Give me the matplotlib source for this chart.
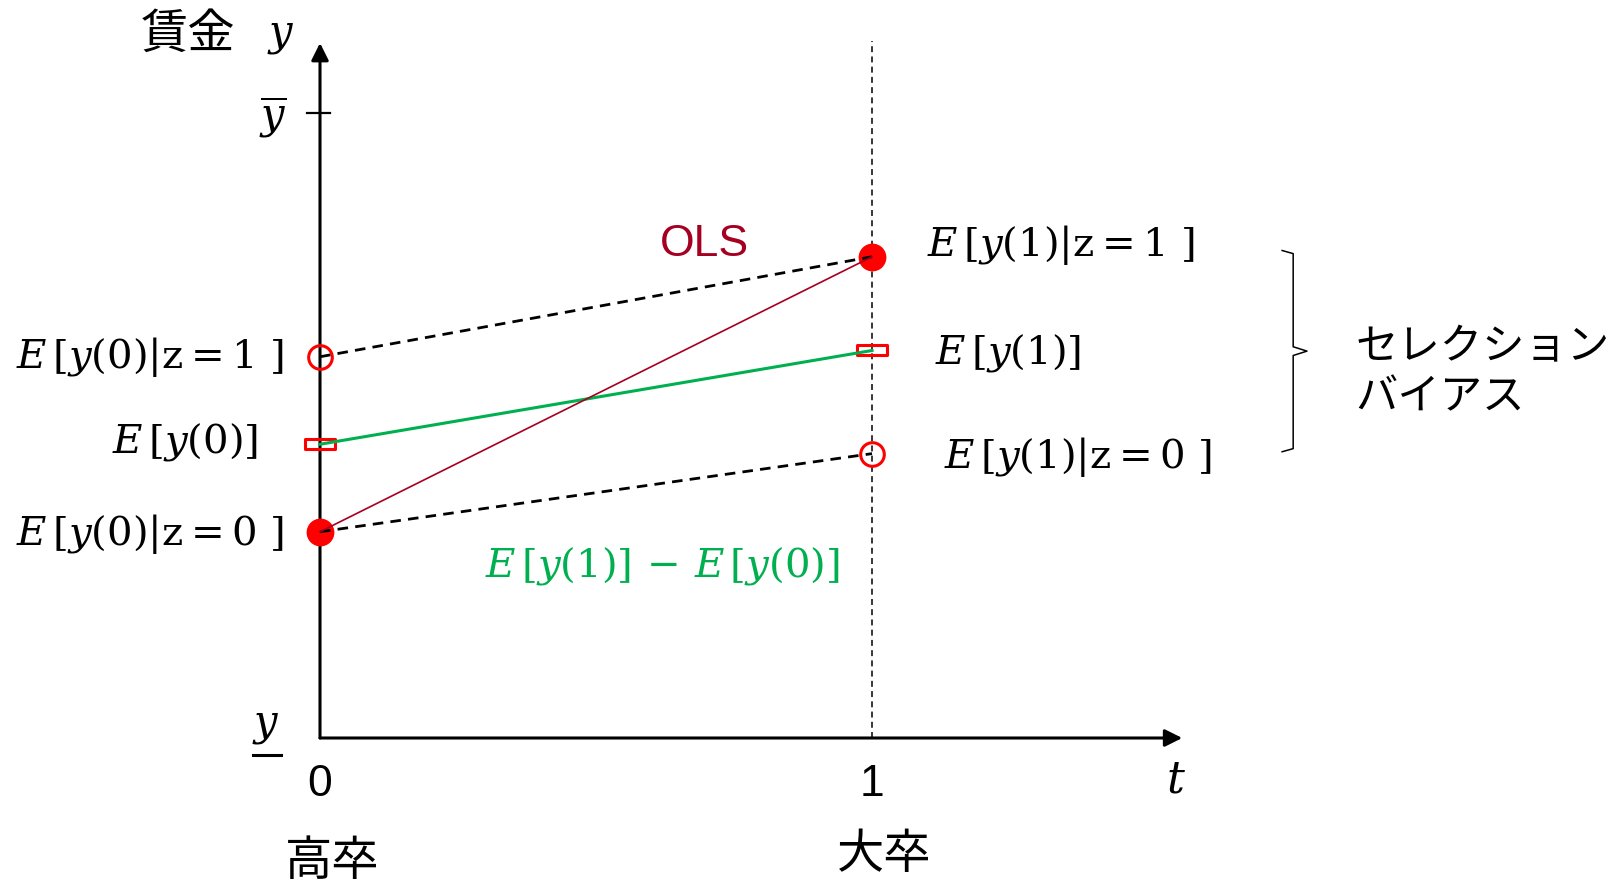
import matplotlib
matplotlib.use("Agg")
import matplotlib.pyplot as plt
from matplotlib.path import Path

plt.rcParams['mathtext.fontset'] = 'dejavuserif'
plt.rcParams['font.family'] = ['Liberation Sans', 'Noto Sans CJK JP', 'DejaVu Sans']

# wage levels (y_ = 0, y-bar = 10) for high school (t=0) and college (t=1)
t = [0, 1]
cond_z1 = [6.1, 7.7]      # E[y(t)|z=1]
cond_z0 = [3.3, 4.55]     # E[y(t)|z=0]
potential = [4.7, 6.2]    # E[y(t)]
ols = [cond_z0[0], cond_z1[1]]
y_low, y_high = 0, 10
tick_labels = ['0', '1']
school_labels = ['高卒', '大卒']
left_labels = [r'$E\,[y(0)|\mathrm{z}{=}1\ ]$', r'$E\,[y(0)]$', r'$E\,[y(0)|\mathrm{z}{=}0\ ]$']
right_labels = [r'$E\,[y(1)|\mathrm{z}{=}1\ ]$', r'$E\,[y(1)]$', r'$E\,[y(1)|\mathrm{z}{=}0\ ]$']

W, H = 1618, 886
fig = plt.figure(figsize=(W / 100, H / 100), dpi=100)
ax = fig.add_axes([0, 0, 1, 1])
ax.axis('off')

# pixel layout of the axes
x0, sx = 320, 552
y0, sy = 738, 62.5
ax.set_xlim(-x0 / sx, (W - x0) / sx)
ax.set_ylim((y0 - H) / sy, y0 / sy)

red = '#FF0000'
green = '#00B050'
ols_col = '#A50021'
mfs = 29
cjk = ['Noto Sans CJK JP', 'DejaVu Sans']

# axes with arrows
arrow = dict(arrowstyle='-|>', lw=2.2, color='black', mutation_scale=26, shrinkA=0, shrinkB=0)
ax.annotate('', xy=(0, 11.12), xytext=(0, y_low), arrowprops=arrow)
ax.annotate('', xy=(1.562, y_low), xytext=(0, y_low), arrowprops=arrow)
ax.plot([-0.023, 0.018], [y_high, y_high], color='black', lw=1.6)
ax.plot([1, 1], [y_low, 11.15], color='black', lw=1.1, dashes=(3.9, 2.8))

# lines
ax.plot(t, cond_z1, color='black', lw=2, dashes=(3.8, 2.6), zorder=4)
ax.plot(t, cond_z0, color='black', lw=2, dashes=(3.8, 2.6), zorder=4)
ax.plot(t, potential, color=green, lw=2.2, zorder=4)
ax.plot(t, ols, color=ols_col, lw=1.2, zorder=5)

# markers
rect = Path([(-1, -0.33), (1, -0.33), (1, 0.33), (-1, 0.33), (-1, -0.33)],
            [Path.MOVETO, Path.LINETO, Path.LINETO, Path.LINETO, Path.CLOSEPOLY])
ax.plot(t[0], cond_z1[0], 'o', ms=17, mfc='none', mec=red, mew=2.2, zorder=3)
ax.plot(t[1], cond_z0[1], 'o', ms=17, mfc='none', mec=red, mew=2.2, zorder=3)
ax.plot(t[0], cond_z0[0], 'o', ms=19, color=red, zorder=3)
ax.plot(t[1], cond_z1[1], 'o', ms=19, color=red, zorder=3)
ax.plot(t, potential, ls='none', marker=rect, ms=21.5, mfc='none', mec=red, mew=2.2, zorder=3)

# value labels
left_vals = [cond_z1[0], potential[0], cond_z0[0]]
left_off = [(-36, 0), (-62, 2), (-36, -2)]
for lab, v, off in zip(left_labels, left_vals, left_off):
    ax.annotate(lab, xy=(t[0], v), xytext=off, textcoords='offset pixels',
                ha='right', va='center', fontsize=mfs, color='black')
right_vals = [cond_z1[1], potential[1], cond_z0[1]]
right_off = [(55, 12), (63, -3), (72, -3)]
for lab, v, off in zip(right_labels, right_vals, right_off):
    ax.annotate(lab, xy=(t[1], v), xytext=off, textcoords='offset pixels',
                ha='left', va='center', fontsize=mfs, color='black')

ax.text(0.697, 7.89, 'OLS', fontsize=32, color=ols_col, ha='center', va='center')
ax.text(0.62, 2.75, r'$E\,[y(1)]\,-\,E\,[y(0)]$', fontsize=mfs, color=green,
        ha='center', va='center')

# selection bias brace
bt, bb = 7.8, 4.58
bm = (bt + bb) / 2
bx = [1.743, 1.763, 1.763, 1.788, 1.763, 1.763, 1.743]
by = [bt, bt - 0.05, bm + 0.07, bm, bm - 0.07, bb + 0.05, bb]
ax.plot(bx, by, color='black', lw=1.1)
ax.text(1.875, bm - 0.34, 'セレクション\nバイアス', fontsize=30.5, ha='left', va='center',
        linespacing=1.2, family=cjk)

# axis labels
for tv, lab in zip(t, tick_labels):
    ax.annotate(lab, xy=(tv, y_low), xytext=(0, -46), textcoords='offset pixels',
                ha='center', va='center', fontsize=32)
for tv, lab, dy in zip(t, school_labels, [-124, -117]):
    ax.annotate(lab, xy=(tv, y_low), xytext=(12, dy), textcoords='offset pixels',
                ha='center', va='center', fontsize=34, family=cjk)
ax.text(1.551, (y0 - 781) / sy, r'$t$', fontsize=32, ha='center', va='center')
ax.annotate(r'$\overline{y}$', xy=(0, y_high), xytext=(-47, -4), textcoords='offset pixels',
            ha='center', va='center', fontsize=30)
ax.annotate(r'$y$', xy=(0, y_low), xytext=(-54, 12), textcoords='offset pixels',
            ha='center', va='center', fontsize=30)
ax.plot([-0.121, -0.071], [(y0 - 755) / sy] * 2, color='black', lw=2.2)
ax.text((281 - x0) / sx, (y0 - 36) / sy, r'$y$', fontsize=30, ha='center', va='center')
ax.text((188 - x0) / sx, (y0 - 35) / sy, '賃金', fontsize=34, ha='center', va='center',
        family=cjk)

fig.savefig('out.png', dpi=100)
